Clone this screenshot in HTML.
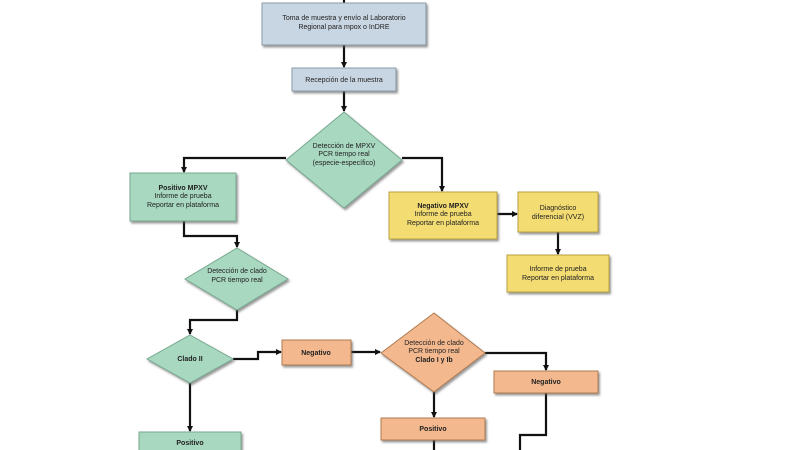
<!DOCTYPE html>
<html><head><meta charset="utf-8"><style>
html,body{margin:0;padding:0;background:#fff;}
svg{display:block;}
text{font-family:"Liberation Sans",sans-serif;font-size:7px;fill:#222;text-anchor:middle;}
.b{font-weight:bold;}
</style></head><body>
<svg width="800" height="450" viewBox="0 0 800 450" xmlns="http://www.w3.org/2000/svg">
<defs>
<marker id="a" markerWidth="6" markerHeight="6" refX="5" refY="3" orient="auto" markerUnits="userSpaceOnUse"><path d="M0,0 L6,3 L0,6 z" fill="#111"/></marker>
<filter id="s" x="-10%" y="-10%" width="130%" height="140%"><feDropShadow dx="1.5" dy="2" stdDeviation="1" flood-color="#555" flood-opacity="0.6"/></filter>
</defs>
<g fill="none" stroke="#111" stroke-width="2.2">
<path d="M344,0 V3"/>
<path d="M344,45 V67" marker-end="url(#a)"/>
<path d="M344,91 V111" marker-end="url(#a)"/>
<path d="M286,158 H184 V172" marker-end="url(#a)"/>
<path d="M402,158 H442 V191" marker-end="url(#a)"/>
<path d="M497,214 H517" marker-end="url(#a)"/>
<path d="M558,232 V254" marker-end="url(#a)"/>
<path d="M184,221 V236 H237 V247" marker-end="url(#a)"/>
<path d="M237,310 V320 H190 V334" marker-end="url(#a)"/>
<path d="M233,359 H258 V352 H281" marker-end="url(#a)"/>
<path d="M351,352 H380" marker-end="url(#a)"/>
<path d="M485,353 H546 V370" marker-end="url(#a)"/>
<path d="M546,392 V435 H520 V450"/>
<path d="M434,392 V417" marker-end="url(#a)"/>
<path d="M434,440 V450"/>
<path d="M190,383 V431" marker-end="url(#a)"/>
</g>
<g filter="url(#s)" stroke-width="1">
<rect x="262" y="3" width="164" height="42" fill="#c8d5e2" stroke="#8a9aaa"/>
<rect x="292" y="68" width="104" height="23" fill="#c8d5e2" stroke="#8a9aaa"/>
<polygon points="344,112 402,160 344,208 286,160" fill="#a8d8c0" stroke="#78a890"/>
<rect x="130" y="173" width="106" height="48" fill="#a8d8c0" stroke="#78a890"/>
<rect x="389" y="192" width="108" height="47" fill="#f3dc72" stroke="#b8a040"/>
<rect x="518" y="192" width="80" height="40" fill="#f3dc72" stroke="#b8a040"/>
<rect x="507" y="255" width="102" height="37" fill="#f3dc72" stroke="#b8a040"/>
<polygon points="237,248 288,279 237,310 185,279" fill="#a8d8c0" stroke="#78a890"/>
<polygon points="190,335 233,359 190,383 147,359" fill="#a8d8c0" stroke="#78a890"/>
<rect x="282" y="340" width="69" height="25" fill="#f4b88e" stroke="#b07a50"/>
<polygon points="434,313 485,353 434,392 381,353" fill="#f4b88e" stroke="#b07a50"/>
<rect x="494" y="371" width="104" height="22" fill="#f4b88e" stroke="#b07a50"/>
<rect x="381" y="418" width="104" height="22" fill="#f4b88e" stroke="#b07a50"/>
<rect x="139" y="432" width="102" height="30" fill="#a8d8c0" stroke="#78a890"/>
</g>
<text x="344" y="20">Toma de muestra y envío al Laboratorio</text>
<text x="344" y="29">Regional para mpox o InDRE</text>
<text x="344" y="82">Recepción de la muestra</text>
<text x="344" y="148">Detección de MPXV</text>
<text x="344" y="156">PCR tiempo real</text>
<text x="344" y="165">(especie-específico)</text>
<text x="183" y="190" class="b">Positivo MPXV</text>
<text x="183" y="198">Informe de prueba</text>
<text x="183" y="207">Reportar en plataforma</text>
<text x="443" y="208" class="b">Negativo MPXV</text>
<text x="443" y="216">Informe de prueba</text>
<text x="443" y="225">Reportar en plataforma</text>
<text x="558" y="210">Diagnóstico</text>
<text x="558" y="219">diferencial (VVZ)</text>
<text x="558" y="271">Informe de prueba</text>
<text x="558" y="280">Reportar en plataforma</text>
<text x="237" y="273">Detección de clado</text>
<text x="237" y="282">PCR tiempo real</text>
<text x="190" y="361" class="b">Clado II</text>
<text x="316" y="355" class="b">Negativo</text>
<text x="434" y="345">Detección de clado</text>
<text x="434" y="353">PCR tiempo real</text>
<text x="434" y="362" class="b">Clado I y Ib</text>
<text x="546" y="384" class="b">Negativo</text>
<text x="433" y="431" class="b">Positivo</text>
<text x="190" y="445" class="b">Positivo</text>
</svg>
</body></html>
